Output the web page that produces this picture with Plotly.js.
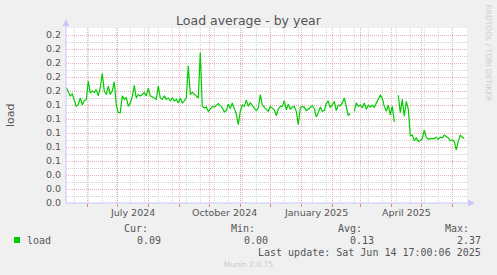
<!DOCTYPE html>
<html><head><meta charset="utf-8">
<script src="https://cdn.plot.ly/plotly-3.0.1.min.js"></script>
<style>html,body{margin:0;padding:0;background:#F0F0F0;}#chart{width:497px;height:275px;}</style>
</head><body><div id="chart"></div>
<script>
// ---- data ----
const seriesName = 'load';
const firstSampleDate = '2024-05-11';
const sampleStepDays = 2;
const loadValues = [
 0.165,0.160,0.153,0.156,0.148,0.138,0.141,0.150,0.140,0.146,
 0.148,0.174,0.157,0.160,0.158,0.162,0.153,0.165,0.185,0.160,
 0.155,0.167,0.155,0.160,0.173,0.140,0.129,0.129,0.153,0.148,
 0.151,0.138,0.143,0.152,0.168,0.150,0.155,0.153,0.155,0.158,
 0.153,0.164,0.153,0.152,0.150,0.148,0.167,0.150,0.148,0.153,
 0.148,0.150,0.146,0.150,0.146,0.148,0.143,0.150,0.143,0.146,
 0.150,0.196,0.155,0.158,0.155,0.153,0.150,0.215,0.138,0.136,
 0.137,0.131,0.135,0.138,0.137,0.140,0.142,0.139,0.136,0.130,
 0.132,0.141,0.135,0.143,0.136,0.127,0.112,0.131,0.140,0.138,
 0.147,0.138,0.143,0.139,0.136,0.132,0.136,0.155,0.140,0.137,
 0.135,0.131,0.138,0.135,0.133,0.125,0.134,0.138,0.138,0.146,
 0.133,0.141,0.134,0.137,0.138,0.131,0.112,0.136,0.138,0.137,
 0.132,0.134,0.136,0.139,0.135,0.123,0.129,0.137,0.131,0.132,
 0.142,0.146,0.136,0.140,0.145,0.132,0.140,0.139,0.143,0.150,
 0.136,0.125,0.128,null,0.131,0.143,0.138,0.140,0.136,0.143,
 0.134,0.140,0.137,0.140,0.137,0.143,0.149,0.154,0.150,0.138,
 0.131,0.140,0.126,0.138,0.116,null,0.154,0.129,0.148,0.124,
 0.145,0.134,0.096,0.097,0.089,0.093,0.088,0.089,0.092,0.104,
 0.094,0.091,0.092,0.092,0.092,0.094,0.091,0.094,0.093,0.097,
 0.095,0.093,0.089,0.090,0.088,0.076,0.088,0.097,0.094,0.092
];
const xRange = ['2024-05-10 17:00', '2025-06-15 17:00'];
const yRange = [0, 0.25];
const quarterLabelDates = ['2024-07-16', '2024-10-16', '2025-01-16', '2025-04-16'];
const quarterLabels = ['July 2024', 'October 2024', 'January 2025', 'April 2025'];
const statNames = ['Cur:', 'Min:', 'Avg:', 'Max:'];
const statValues = ['0.09', '0.00', '0.13', '2.37'];
const chartTitle = 'Load average - by year';
const yTitle = 'load';
const lastUpdate = 'Last update: Sat Jun 14 17:00:06 2025';
const footer = 'Munin 2.0.75';
const sideText = 'RRDTOOL / TOBI OETIKER';

// ---- build ----
const DAY = 86400000;
const t0 = Date.parse(firstSampleDate + 'T00:00:00Z');
const dates = loadValues.map((_, i) => new Date(t0 + i * sampleStepDays * DAY).toISOString().slice(0, 10));

const L = 66, T = 28, PW = 401, PH = 175, W = 497, H = 275;
const px = x => (x - L) / PW;
const py = y => (T + PH - y) / PH;

const txt = '#555555';
const sans = 'DejaVu Sans';
const mono = 'DejaVu Sans Mono';
const axisCol = '#C8C8F8';
const majorGrid = '#EDB0B0';
const minorGridCol = '#D0D0D0';

const shapes = [];
// 2-week minor vertical grid (RRDtool style), placed through the x scale
const minorStart = Date.parse('2024-05-19T00:00:00Z');
for (let t = minorStart; t < Date.parse('2025-06-15T00:00:00Z'); t += 14 * DAY) {
  const d = new Date(t).toISOString().slice(0, 10);
  shapes.push({type: 'line', layer: 'below', xref: 'x', yref: 'paper', x0: d, x1: d, y0: 0, y1: 1,
    line: {color: minorGridCol, width: 1, dash: '1px,1px'}});
}

const annotations = [];
quarterLabelDates.forEach((d, i) => annotations.push({
  x: d, xref: 'x', y: py(212.5), yref: 'paper', text: quarterLabels[i], showarrow: false,
  xanchor: 'center', yanchor: 'middle', font: {family: sans, size: 9.5, color: txt}
}));
annotations.push({x: px(10), y: py(115), xref: 'paper', yref: 'paper', text: yTitle, textangle: -90,
  showarrow: false, xanchor: 'center', yanchor: 'middle', font: {family: sans, size: 11, color: txt}});
const statRight = [150, 257, 363.5, 470.5];
statNames.forEach((n, i) => {
  annotations.push({x: px(statRight[i]), y: py(228), xref: 'paper', yref: 'paper', text: n, showarrow: false,
    xanchor: 'right', yanchor: 'middle', font: {family: mono, size: 10, color: txt}});
  annotations.push({x: px(statRight[i] + 12.5), y: py(240), xref: 'paper', yref: 'paper', text: statValues[i], showarrow: false,
    xanchor: 'right', yanchor: 'middle', font: {family: mono, size: 10, color: txt}});
});
annotations.push({x: px(25), y: py(240), xref: 'paper', yref: 'paper', text: seriesName, showarrow: false,
  xanchor: 'left', yanchor: 'middle', font: {family: mono, size: 10, color: txt}});
annotations.push({x: px(483), y: py(252), xref: 'paper', yref: 'paper', text: lastUpdate, showarrow: false,
  xanchor: 'right', yanchor: 'middle', font: {family: mono, size: 10, color: txt}});
annotations.push({x: px(248), y: py(264), xref: 'paper', yref: 'paper', text: footer, showarrow: false,
  xanchor: 'center', yanchor: 'middle', font: {family: sans, size: 7.5, color: '#CACACA'}});
annotations.push({x: px(488.5), y: py(53), xref: 'paper', yref: 'paper', text: sideText, showarrow: false, textangle: 90,
  xanchor: 'center', yanchor: 'middle', font: {family: sans, size: 7.5, color: '#CDCDCD'}});

shapes.push(
  {type: 'line', xref: 'paper', yref: 'paper', x0: 0, x1: 0, y0: 0, y1: py(24), line: {color: axisCol, width: 1}},
  {type: 'line', xref: 'paper', yref: 'paper', x0: 0, x1: px(470), y0: 0, y1: 0, line: {color: axisCol, width: 1}},
  {type: 'path', xref: 'paper', yref: 'paper', fillcolor: axisCol, line: {width: 0},
   path: `M ${px(62.5)} ${py(26)} L ${px(66)} ${py(19)} L ${px(69.5)} ${py(26)} Z`},
  {type: 'path', xref: 'paper', yref: 'paper', fillcolor: axisCol, line: {width: 0},
   path: `M ${px(468)} ${py(199.5)} L ${px(475)} ${py(203)} L ${px(468)} ${py(206.5)} Z`},
  {type: 'rect', xref: 'paper', yref: 'paper', x0: px(14), x1: px(20), y0: py(237), y1: py(243),
   fillcolor: '#00CC00', line: {width: 0}}
);

const trace = {
  x: dates, y: loadValues, type: 'scatter', mode: 'lines', name: seriesName,
  line: {color: '#00CC00', width: 1.2}, connectgaps: false, hoverinfo: 'skip'
};

const layout = {
  width: W, height: H,
  paper_bgcolor: '#F0F0F0', plot_bgcolor: '#FFFFFF',
  margin: {l: L, r: W - L - PW, t: T, b: H - T - PH, pad: 0},
  showlegend: false,
  title: {text: chartTitle, x: 0.5, xref: 'container', xanchor: 'center', y: 1 - 20.5 / H, yref: 'container', yanchor: 'middle',
    font: {family: sans, size: 12.5, color: txt}},
  xaxis: {
    type: 'date', range: xRange, fixedrange: true,
    tickmode: 'linear', tick0: '2024-06-01', dtick: 'M1', showticklabels: false,
    showgrid: true, gridcolor: majorGrid, griddash: '1px,1px', gridwidth: 1,
    ticks: 'outside', ticklen: 3, tickcolor: '#E08080', tickwidth: 1,
    zeroline: false, showline: false
  },
  yaxis: {
    range: yRange, fixedrange: true,
    tickmode: 'linear', tick0: 0, dtick: 0.02, tickformat: '.1f',
    tickfont: {family: sans, size: 9.5, color: txt}, ticks: '', ticklabelstandoff: 4,
    showgrid: true, gridcolor: majorGrid, griddash: '1px,1px', gridwidth: 1,
    zeroline: false, showline: false,
    minor: {tick0: 0, dtick: 0.01, showgrid: true, gridcolor: minorGridCol, griddash: '1px,1px', gridwidth: 1}
  },
  annotations: annotations,
  shapes: shapes
};

Plotly.newPlot('chart', [trace], layout, {staticPlot: true, displayModeBar: false});
</script></body></html>
